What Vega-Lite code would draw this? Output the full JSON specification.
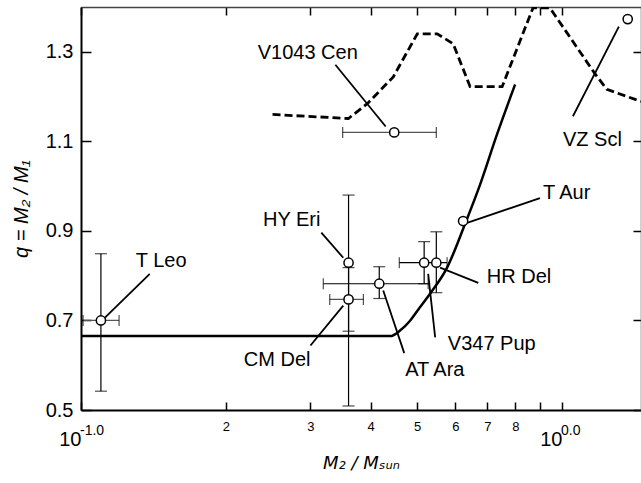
{
  "$schema": "https://vega.github.io/schema/vega-lite/v6.json",
  "width": 560,
  "height": 403,
  "autosize": {"type": "none"},
  "padding": {"left": 81, "top": 7, "right": 0, "bottom": 73},
  "background": "white",
  "config": {"view": {"stroke": null}, "font": "Liberation Sans", "axis": {"grid": false}},
  "datasets": {
    "dash": [
      {"m": 0.2502, "q": 1.160}, {"m": 0.3597, "q": 1.151}, {"m": 0.3938, "q": 1.184},
      {"m": 0.4460, "q": 1.244}, {"m": 0.5002, "q": 1.340}, {"m": 0.5502, "q": 1.340},
      {"m": 0.594, "q": 1.318}, {"m": 0.6442, "q": 1.222}, {"m": 0.751, "q": 1.222},
      {"m": 0.8705, "q": 1.398}, {"m": 0.944, "q": 1.398}, {"m": 1.171, "q": 1.251},
      {"m": 1.240, "q": 1.216}, {"m": 1.46, "q": 1.189}
    ],
    "solid": [
      {"m": 0.1, "q": 0.665}, {"m": 0.4395, "q": 0.665}, {"m": 0.4613, "q": 0.678},
      {"m": 0.4837, "q": 0.700}, {"m": 0.5024, "q": 0.724}, {"m": 0.5322, "q": 0.760},
      {"m": 0.577, "q": 0.818}, {"m": 0.629, "q": 0.916}, {"m": 0.676, "q": 1.004},
      {"m": 0.733, "q": 1.116}, {"m": 0.799, "q": 1.227}
    ],
    "stars": [
      {"name": "T Leo", "m": 0.110, "q": 0.70, "mlo": 0.101, "mhi": 0.120, "qlo": 0.542, "qhi": 0.849},
      {"name": "HY Eri", "m": 0.360, "q": 0.829, "qlo": 0.509, "qhi": 0.980},
      {"name": "CM Del", "m": 0.360, "q": 0.747, "mlo": 0.329, "mhi": 0.3865, "qlo": 0.676, "qhi": 0.818},
      {"name": "AT Ara", "m": 0.417, "q": 0.782, "mlo": 0.319, "mhi": 0.527, "qlo": 0.749, "qhi": 0.820},
      {"name": "V347 Pup", "m": 0.517, "q": 0.829, "mlo": 0.459, "mhi": 0.577, "qlo": 0.782, "qhi": 0.876},
      {"name": "HR Del", "m": 0.548, "q": 0.829, "qlo": 0.762, "qhi": 0.898},
      {"name": "T Aur", "m": 0.623, "q": 0.922},
      {"name": "V1043 Cen", "m": 0.448, "q": 1.120, "mlo": 0.350, "mhi": 0.548},
      {"name": "VZ Scl", "m": 1.370, "q": 1.373}
    ],
    "leaders": [
      {"name": "T Leo", "x1": 0.1116, "y1": 0.704, "x2": 0.139, "y2": 0.804},
      {"name": "V1043 Cen", "x1": 0.338, "y1": 1.271, "x2": 0.430, "y2": 1.133},
      {"name": "VZ Scl", "x1": 1.054, "y1": 1.156, "x2": 1.313, "y2": 1.356},
      {"name": "T Aur", "x1": 0.635, "y1": 0.918, "x2": 0.900, "y2": 0.973},
      {"name": "HY Eri", "x1": 0.316, "y1": 0.896, "x2": 0.351, "y2": 0.840},
      {"name": "HR Del", "x1": 0.558, "y1": 0.818, "x2": 0.670, "y2": 0.784},
      {"name": "V347 Pup", "x1": 0.527, "y1": 0.804, "x2": 0.545, "y2": 0.662},
      {"name": "AT Ara", "x1": 0.425, "y1": 0.767, "x2": 0.470, "y2": 0.627},
      {"name": "CM Del", "x1": 0.351, "y1": 0.733, "x2": 0.300, "y2": 0.644}
    ],
    "labels": [
      {"name": "T Leo", "lx": 0.130, "ly": 0.833},
      {"name": "V1043 Cen", "lx": 0.233, "ly": 1.298},
      {"name": "VZ Scl", "lx": 1.005, "ly": 1.104},
      {"name": "T Aur", "lx": 0.913, "ly": 0.984},
      {"name": "HY Eri", "lx": 0.239, "ly": 0.924},
      {"name": "HR Del", "lx": 0.698, "ly": 0.798},
      {"name": "V347 Pup", "lx": 0.579, "ly": 0.647},
      {"name": "AT Ara", "lx": 0.472, "ly": 0.589},
      {"name": "CM Del", "lx": 0.218, "ly": 0.611}
    ],
    "sups": [
      {"m": 0.1, "s": "-1.0"},
      {"m": 1, "s": "0.0"}
    ]
  },
  "layer": [
    {
      "data": {"name": "dash"},
      "mark": {"type": "line", "color": "black", "strokeWidth": 2.8, "strokeDash": [8, 4], "clip": true},
      "encoding": {
        "x": {
          "field": "m", "type": "quantitative",
          "scale": {"type": "log", "domain": [0.1, 1.46], "nice": false},
          "axis": {
            "orient": "bottom",
            "values": [0.1, 0.2, 0.3, 0.4, 0.5, 0.6, 0.7, 0.8, 0.9, 1],
            "labelExpr": "datum.value < 0.15 || datum.value > 0.95 ? '10' : (datum.value > 0.85 ? '' : '' + round(datum.value * 10))",
            "labelFontSize": {"condition": {"test": "datum.value < 0.15 || datum.value > 0.95", "value": 20}, "value": 13},
            "labelPadding": {"condition": {"test": "datum.value < 0.15 || datum.value > 0.95", "value": 27}, "value": 18},
            "labelAlign": {"condition": {"test": "datum.value < 0.15 || datum.value > 0.95", "value": "right"}, "value": "center"},
            "labelBaseline": "top",
            "labelColor": "black",
            "labelFlush": false,
            "labelOverlap": false,
            "labelBound": false,
            "tickSize": -8,
            "tickColor": "black",
            "tickWidth": 1.5,
            "domainColor": "black",
            "domainWidth": 2,
            "title": "M₂ / Mₛᵤₙ",
            "titleFont": "DejaVu Sans",
            "titleFontSize": 18,
            "titleFontStyle": "italic",
            "titleFontWeight": "normal",
            "titleColor": "black",
            "titlePadding": 5
          }
        },
        "y": {
          "field": "q", "type": "quantitative",
          "scale": {"domain": [0.5, 1.4], "nice": false, "zero": false},
          "axis": {
            "orient": "left",
            "values": [0.5, 0.7, 0.9, 1.1, 1.3],
            "format": ".1f",
            "labelFontSize": 20,
            "labelColor": "black",
            "labelPadding": 18,
            "labelFlush": false,
            "labelOverlap": false,
            "tickSize": -10,
            "tickColor": "black",
            "tickWidth": 1.5,
            "domainColor": "black",
            "domainWidth": 2,
            "title": "q = M₂ / M₁",
            "titleFontSize": 20,
            "titleFontStyle": "italic",
            "titleFontWeight": "normal",
            "titleColor": "black",
            "titlePadding": 14
          }
        }
      }
    },
    {
      "data": {"name": "solid"},
      "mark": {"type": "line", "color": "black", "strokeWidth": 2.5, "interpolate": "monotone", "clip": true},
      "encoding": {
        "x": {
          "field": "m", "type": "quantitative",
          "axis": {
            "orient": "top", "values": [0.1, 0.2, 0.3, 0.4, 0.5, 0.6, 0.7, 0.8, 0.9, 1],
            "labels": false, "title": null, "tickSize": -8, "tickColor": "black", "tickWidth": 1.5,
            "domainColor": "#444", "domainWidth": 1.5
          }
        },
        "y": {
          "field": "q", "type": "quantitative",
          "axis": {
            "orient": "right", "values": [0.5, 0.7, 0.9, 1.1, 1.3],
            "labels": false, "title": null, "tickSize": -8, "tickColor": "black", "tickWidth": 1.5,
            "domainColor": "#444", "domainWidth": 1.5
          }
        }
      }
    },
    {
      "data": {"name": "stars"},
      "transform": [{"filter": "isValid(datum.mlo)"}],
      "mark": {"type": "rule", "strokeWidth": 1.2},
      "encoding": {
        "x": {"field": "mlo", "type": "quantitative", "axis": null},
        "x2": {"field": "mhi"},
        "y": {"field": "q", "type": "quantitative", "axis": null},
        "color": {"condition": {"test": "datum.name == 'V1043 Cen' || datum.name == 'T Leo' || datum.name == 'CM Del'", "value": "#555"}, "value": "black"}
      }
    },
    {
      "data": {"name": "stars"},
      "transform": [{"filter": "isValid(datum.qlo)"}],
      "mark": {"type": "rule", "strokeWidth": 1.2, "color": "black"},
      "encoding": {
        "x": {"field": "m", "type": "quantitative", "axis": null},
        "y": {"field": "qlo", "type": "quantitative", "axis": null},
        "y2": {"field": "qhi"}
      }
    },
    {
      "data": {"name": "stars"},
      "transform": [{"filter": "isValid(datum.mlo)"}],
      "mark": {"type": "tick", "orient": "vertical", "size": 11, "thickness": 1.2, "color": "black"},
      "encoding": {
        "x": {"field": "mlo", "type": "quantitative", "axis": null},
        "y": {"field": "q", "type": "quantitative", "axis": null}
      }
    },
    {
      "data": {"name": "stars"},
      "transform": [{"filter": "isValid(datum.mhi)"}],
      "mark": {"type": "tick", "orient": "vertical", "size": 11, "thickness": 1.2, "color": "black"},
      "encoding": {
        "x": {"field": "mhi", "type": "quantitative", "axis": null},
        "y": {"field": "q", "type": "quantitative", "axis": null}
      }
    },
    {
      "data": {"name": "stars"},
      "transform": [{"filter": "isValid(datum.qlo)"}],
      "mark": {"type": "tick", "orient": "horizontal", "size": 12, "thickness": 1.2, "color": "black"},
      "encoding": {
        "x": {"field": "m", "type": "quantitative", "axis": null},
        "y": {"field": "qlo", "type": "quantitative", "axis": null}
      }
    },
    {
      "data": {"name": "stars"},
      "transform": [{"filter": "isValid(datum.qhi)"}],
      "mark": {"type": "tick", "orient": "horizontal", "size": 12, "thickness": 1.2, "color": "black"},
      "encoding": {
        "x": {"field": "m", "type": "quantitative", "axis": null},
        "y": {"field": "qhi", "type": "quantitative", "axis": null}
      }
    },
    {
      "data": {"name": "leaders"},
      "mark": {"type": "rule", "strokeWidth": 1.8, "color": "black"},
      "encoding": {
        "x": {"field": "x1", "type": "quantitative", "axis": null},
        "y": {"field": "y1", "type": "quantitative", "axis": null},
        "x2": {"field": "x2"},
        "y2": {"field": "y2"}
      }
    },
    {
      "data": {"name": "stars"},
      "mark": {"type": "point", "shape": "circle", "filled": false, "fill": "white", "stroke": "black", "strokeWidth": 1.5, "size": 85, "opacity": 1, "fillOpacity": 1},
      "encoding": {
        "x": {"field": "m", "type": "quantitative", "axis": null},
        "y": {"field": "q", "type": "quantitative", "axis": null}
      }
    },
    {
      "data": {"name": "labels"},
      "mark": {"type": "text", "align": "left", "baseline": "middle", "fontSize": 20, "color": "black"},
      "encoding": {
        "x": {"field": "lx", "type": "quantitative", "axis": null},
        "y": {"field": "ly", "type": "quantitative", "axis": null},
        "text": {"field": "name"}
      }
    },
    {
      "data": {"name": "sups"},
      "mark": {"type": "text", "align": "left", "baseline": "top", "fontSize": 14, "color": "black", "dy": 14, "dx": -1},
      "encoding": {
        "x": {"field": "m", "type": "quantitative", "axis": null},
        "y": {"datum": 0.5, "type": "quantitative", "axis": null},
        "text": {"field": "s"}
      }
    }
  ],
  "resolve": {"axis": {"x": "independent", "y": "independent"}}
}
